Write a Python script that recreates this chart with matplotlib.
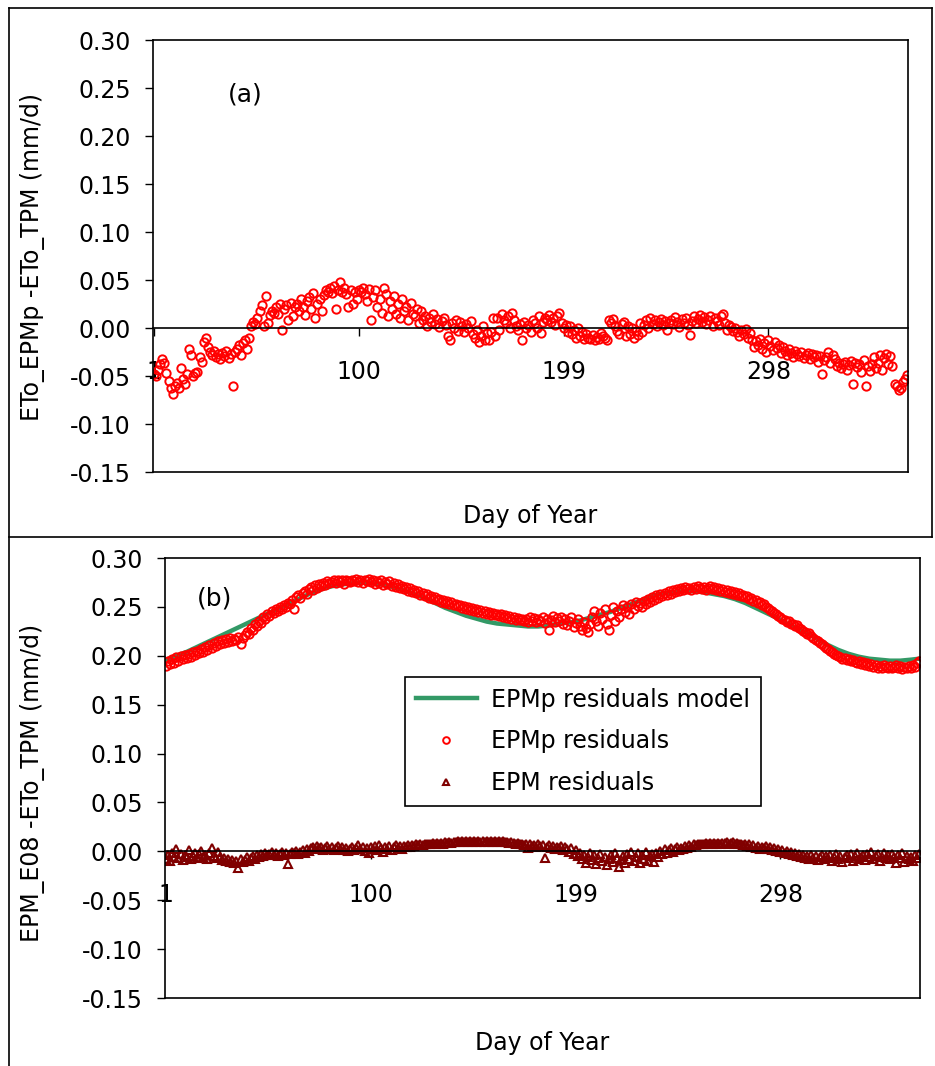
#!/usr/bin/env python
# -*- coding: utf-8 -*-

# %%

import matplotlib

matplotlib.use("Agg")
import matplotlib.pyplot as plt
from matplotlib.lines import Line2D
from matplotlib.ticker import FuncFormatter
import numpy as np

plt.rcParams["font.family"] = ["DejaVu Sans"]

# %%

# Panel (a): ETo_EPMp - ETo_TPM, one value per day of year
eto_epmp_a = [
    -0.048, -0.050, -0.044, -0.038, -0.032, -0.036, -0.047, -0.055, -0.062, -0.069,
    -0.060, -0.057, -0.063, -0.042, -0.053, -0.058, -0.048, -0.022, -0.028, -0.050,
    -0.047, -0.046, -0.030, -0.035, -0.015, -0.010, -0.020, -0.025, -0.028, -0.024,
    -0.030, -0.027, -0.032, -0.026, -0.029, -0.024, -0.031, -0.027, -0.060, -0.025,
    -0.022, -0.018, -0.028, -0.016, -0.012, -0.022, -0.010, 0.002, 0.006, 0.004,
    0.010, 0.018, 0.024, 0.002, 0.033, 0.005, 0.014, 0.018, 0.016, 0.022,
    0.015, 0.025, -0.002, 0.020, 0.024, 0.008, 0.026, 0.012, 0.022, 0.025,
    0.018, 0.030, 0.022, 0.014, 0.028, 0.032, 0.020, 0.036, 0.010, 0.025,
    0.030, 0.018, 0.034, 0.040, 0.038, 0.042, 0.036, 0.044, 0.020, 0.040,
    0.048, 0.038, 0.042, 0.035, 0.022, 0.040, 0.025, 0.038, 0.030, 0.040,
    0.037, 0.042, 0.035, 0.028, 0.041, 0.008, 0.032, 0.040, 0.022, 0.030,
    0.016, 0.042, 0.035, 0.012, 0.028, 0.020, 0.033, 0.015, 0.025, 0.010,
    0.030, 0.018, 0.022, 0.008, 0.026, 0.015, 0.012, 0.020, 0.005, 0.018,
    0.008, 0.012, 0.002, 0.010, 0.006, 0.015, 0.004, 0.009, 0.001, 0.007,
    0.010, 0.003, -0.008, -0.012, 0.005, 0.000, 0.008, -0.003, 0.006, 0.002,
    -0.004, 0.004, 0.000, 0.007, -0.006, -0.010, -0.002, -0.015, -0.008, 0.002,
    -0.012, -0.005, -0.013, -0.004, 0.010, -0.008, 0.010, -0.002, 0.015, 0.008,
    0.005, 0.012, 0.000, 0.016, 0.008, 0.002, -0.002, 0.004, -0.013, 0.006,
    0.000, 0.003, -0.004, 0.008, 0.005, 0.000, 0.012, -0.005, 0.006, 0.010,
    0.008, 0.014, 0.006, 0.010, 0.003, 0.012, 0.016, 0.005, 0.000, 0.003,
    -0.004, 0.002, -0.006, -0.002, -0.010, 0.000, -0.008, -0.004, -0.011, -0.006,
    -0.010, -0.011, -0.007, -0.012, -0.009, -0.011, -0.005, -0.008, -0.010, -0.012,
    0.008, 0.005, 0.009, 0.002, -0.003, -0.006, 0.004, 0.006, -0.008, 0.002,
    -0.006, 0.000, -0.010, -0.003, -0.007, 0.005, -0.004, 0.003, 0.008, 0.000,
    0.010, 0.004, 0.008, 0.002, 0.006, 0.009, 0.003, 0.007, -0.002, 0.005,
    0.008, 0.004, 0.011, 0.006, 0.001, 0.009, 0.005, 0.010, 0.003, -0.007,
    0.007, 0.012, 0.005, 0.009, 0.014, 0.006, 0.011, 0.004, 0.008, 0.013,
    0.002, 0.010, 0.007, 0.003, 0.012, 0.015, 0.005, -0.002, 0.003, 0.001,
    -0.003, 0.000, -0.004, -0.008, -0.002, -0.006, -0.001, -0.010, -0.005, -0.012,
    -0.020, -0.014, -0.018, -0.011, -0.022, -0.016, -0.025, -0.012, -0.019, -0.023,
    -0.015, -0.021, -0.018, -0.026, -0.020, -0.024, -0.028, -0.022, -0.026, -0.030,
    -0.024, -0.027, -0.029, -0.025, -0.031, -0.028, -0.026, -0.032, -0.027, -0.030,
    -0.028, -0.035, -0.029, -0.048, -0.033, -0.030, -0.025, -0.036, -0.028, -0.032,
    -0.040, -0.036, -0.042, -0.038, -0.035, -0.044, -0.039, -0.034, -0.058, -0.036,
    -0.041, -0.037, -0.046, -0.033, -0.060, -0.040, -0.045, -0.038, -0.030, -0.042,
    -0.036, -0.028, -0.044, -0.031, -0.027, -0.038, -0.029, -0.040, -0.058, -0.060,
    -0.065, -0.062, -0.056, -0.053, -0.049,
]

# Panel (b): EPMp residuals (circles)
epmp_residuals = [
    0.190, 0.195, 0.192, 0.197, 0.193, 0.199, 0.195, 0.200, 0.197, 0.201,
    0.198, 0.202, 0.199, 0.204, 0.201, 0.205, 0.203, 0.207, 0.204, 0.209,
    0.206, 0.211, 0.208, 0.213, 0.210, 0.215, 0.212, 0.216, 0.213, 0.217,
    0.214, 0.218, 0.215, 0.217, 0.216, 0.219, 0.212, 0.218, 0.221, 0.224,
    0.222, 0.228, 0.226, 0.232, 0.230, 0.236, 0.234, 0.240, 0.238, 0.243,
    0.241, 0.246, 0.244, 0.248, 0.246, 0.250, 0.248, 0.252, 0.250, 0.254,
    0.253, 0.257, 0.248, 0.260, 0.262, 0.259, 0.264, 0.266, 0.263, 0.268,
    0.270, 0.267, 0.272, 0.269, 0.273, 0.271, 0.274, 0.272, 0.276, 0.274,
    0.275, 0.277, 0.274, 0.278, 0.275, 0.277, 0.273, 0.278, 0.276, 0.275,
    0.278, 0.276, 0.279, 0.275, 0.277, 0.274, 0.278, 0.276, 0.279, 0.275,
    0.277, 0.273, 0.276, 0.274, 0.277, 0.272, 0.275, 0.273, 0.276, 0.271,
    0.274, 0.270, 0.273, 0.269, 0.271, 0.268, 0.270, 0.266, 0.269, 0.265,
    0.267, 0.264, 0.266, 0.262, 0.264, 0.261, 0.263, 0.259, 0.261, 0.258,
    0.260, 0.257, 0.258, 0.255, 0.257, 0.254, 0.256, 0.253, 0.255, 0.252,
    0.253, 0.251, 0.252, 0.249, 0.251, 0.248, 0.250, 0.247, 0.249, 0.246,
    0.248, 0.245, 0.247, 0.244, 0.246, 0.243, 0.245, 0.242, 0.244, 0.242,
    0.243, 0.241, 0.243, 0.240, 0.242, 0.239, 0.241, 0.238, 0.240, 0.237,
    0.239, 0.237, 0.238, 0.236, 0.238, 0.235, 0.240, 0.236, 0.239, 0.235,
    0.238, 0.236, 0.240, 0.234, 0.238, 0.226, 0.237, 0.241, 0.235, 0.239,
    0.236, 0.240, 0.233, 0.238, 0.231, 0.236, 0.240, 0.229, 0.234, 0.238,
    0.230, 0.226, 0.235, 0.228, 0.224, 0.232, 0.240, 0.246, 0.236, 0.230,
    0.244, 0.238, 0.248, 0.232, 0.226, 0.242, 0.250, 0.236, 0.246, 0.240,
    0.248, 0.252, 0.245, 0.250, 0.243, 0.253, 0.248, 0.255, 0.251, 0.254,
    0.250, 0.256, 0.253, 0.258, 0.255, 0.260, 0.257, 0.262, 0.259, 0.263,
    0.261, 0.264, 0.262, 0.266, 0.263, 0.267, 0.265, 0.268, 0.266, 0.269,
    0.267, 0.270, 0.268, 0.269, 0.267, 0.270, 0.268, 0.271, 0.269, 0.268,
    0.270, 0.267, 0.269, 0.271, 0.268, 0.270, 0.267, 0.269, 0.266, 0.268,
    0.265, 0.267, 0.264, 0.266, 0.263, 0.265, 0.262, 0.264, 0.261, 0.262,
    0.260, 0.261, 0.258, 0.259, 0.256, 0.257, 0.254, 0.255, 0.252, 0.253,
    0.250, 0.249, 0.247, 0.246, 0.244, 0.243, 0.241, 0.240, 0.238, 0.237,
    0.235, 0.236, 0.233, 0.232, 0.230, 0.231, 0.228, 0.227, 0.225, 0.224,
    0.222, 0.223, 0.220, 0.218, 0.216, 0.215, 0.213, 0.212, 0.210, 0.208,
    0.207, 0.205, 0.204, 0.202, 0.201, 0.200, 0.199, 0.197, 0.198, 0.196,
    0.197, 0.195, 0.196, 0.194, 0.193, 0.195, 0.192, 0.194, 0.191, 0.193,
    0.190, 0.192, 0.189, 0.191, 0.188, 0.190, 0.187, 0.191, 0.189, 0.188,
    0.190, 0.187, 0.189, 0.191, 0.188, 0.190, 0.186, 0.189, 0.187, 0.190,
    0.188, 0.191, 0.189, 0.193, 0.195,
]

# Panel (b): EPM residuals (triangles)
epm_residuals = [
    -0.008, -0.004, -0.010, -0.002, -0.006, 0.002, -0.007, -0.003, -0.009, -0.004,
    -0.006, 0.001, -0.008, -0.005, -0.002, -0.007, -0.003, 0.000, -0.006, -0.004,
    -0.008, -0.002, 0.003, -0.005, -0.007, -0.001, -0.006, -0.009, -0.007, -0.010,
    -0.008, -0.011, -0.009, -0.012, -0.010, -0.017, -0.008, -0.011, -0.009, -0.006,
    -0.010, -0.007, -0.005, -0.008, -0.004, -0.006, -0.003, -0.005, -0.002, -0.004,
    -0.003, -0.001, -0.004, -0.002, -0.005, -0.003, -0.001, -0.004, -0.002, -0.013,
    -0.003, -0.001, -0.002, 0.000, -0.003, -0.001, 0.001, -0.002, 0.002, 0.000,
    0.003, 0.004, 0.002, 0.005, 0.003, 0.004, 0.001, 0.003, 0.005, 0.002,
    0.004, 0.001, 0.003, 0.005, 0.002, 0.004, 0.001, 0.003, 0.000, 0.002,
    0.004, 0.001, 0.003, 0.006, 0.002, 0.004, 0.000, 0.003, -0.002, 0.004,
    0.002, 0.005, 0.001, 0.006, 0.003, -0.001, 0.004, 0.002, 0.005, 0.001,
    0.004, 0.006, 0.003, 0.005, 0.002, 0.005, 0.004, 0.006, 0.004, 0.006,
    0.005, 0.007, 0.006, 0.007, 0.006, 0.008, 0.007, 0.008, 0.007, 0.009,
    0.008, 0.009, 0.008, 0.009, 0.008, 0.010, 0.009, 0.010, 0.009, 0.010,
    0.010, 0.011, 0.010, 0.011, 0.010, 0.011, 0.010, 0.011, 0.010, 0.011,
    0.010, 0.011, 0.010, 0.011, 0.010, 0.011, 0.010, 0.011, 0.010, 0.011,
    0.010, 0.011, 0.010, 0.011, 0.010, 0.010, 0.009, 0.010, 0.009, 0.008,
    0.009, 0.007, 0.008, 0.006, 0.008, 0.003, 0.007, 0.005, 0.006, 0.004,
    0.007, 0.005, 0.006, -0.007, 0.004, 0.006, 0.003, 0.005, 0.002, 0.004,
    0.003, 0.005, 0.001, 0.004, 0.002, -0.001, 0.003, -0.003, 0.001, -0.005,
    -0.002, -0.008, -0.004, -0.012, -0.006, -0.002, -0.009, -0.004, -0.013, -0.007,
    -0.003, -0.010, -0.006, -0.014, -0.008, -0.004, -0.011, -0.002, -0.007, -0.016,
    -0.009, -0.005, -0.012, -0.003, -0.008, -0.001, -0.010, -0.006, -0.002, -0.012,
    -0.004, -0.008, -0.001, -0.010, -0.005, -0.003, -0.011, -0.002, -0.006, 0.000,
    -0.003, 0.002, -0.002, 0.001, 0.003, -0.001, 0.002, 0.004, 0.001, 0.003,
    0.002, 0.005, 0.003, 0.006, 0.004, 0.007, 0.006, 0.008, 0.007, 0.008,
    0.008, 0.009, 0.008, 0.009, 0.008, 0.009, 0.008, 0.009, 0.008, 0.009,
    0.009, 0.010, 0.008, 0.009, 0.010, 0.008, 0.009, 0.007, 0.008, 0.006,
    0.008, 0.005, 0.007, 0.004, 0.006, 0.003, 0.005, 0.002, 0.004, 0.003,
    0.005, 0.002, 0.004, 0.001, 0.003, 0.000, 0.002, -0.001, 0.001, -0.002,
    0.000, -0.003, -0.001, -0.004, -0.002, -0.005, -0.003, -0.006, -0.004, -0.007,
    -0.005, -0.008, -0.004, -0.007, -0.005, -0.009, -0.006, -0.004, -0.008, -0.005,
    -0.007, -0.004, -0.010, -0.006, -0.003, -0.008, -0.005, -0.011, -0.006, -0.004,
    -0.007, -0.003, -0.010, -0.005, -0.002, -0.008, -0.006, -0.004, -0.009, -0.003,
    -0.006, -0.001, -0.008, -0.005, -0.003, -0.010, -0.006, -0.002, -0.007, -0.004,
    -0.008, -0.003, -0.006, -0.012, -0.004, -0.007, -0.002, -0.011, -0.005, -0.008,
    -0.006, -0.010, -0.004, -0.007, -0.003,
]

# Panel (b): EPMp residuals model (green line), every 5 days
model_days = list(range(1, 362, 5)) + [365]
model_values = [
    0.196, 0.200, 0.204, 0.209, 0.214, 0.219, 0.224, 0.229, 0.234, 0.239,
    0.244, 0.249, 0.254, 0.259, 0.264, 0.268, 0.271, 0.273, 0.274, 0.275,
    0.274, 0.273, 0.270, 0.267, 0.263, 0.259, 0.254, 0.249, 0.245, 0.241,
    0.238, 0.235, 0.233, 0.232, 0.231, 0.230, 0.230, 0.231, 0.233, 0.234,
    0.236, 0.239, 0.242, 0.245, 0.249, 0.253, 0.257, 0.261, 0.264, 0.265,
    0.266, 0.266, 0.265, 0.263, 0.261, 0.258, 0.254, 0.249, 0.244, 0.239,
    0.233, 0.228, 0.223, 0.217, 0.211, 0.206, 0.202, 0.199, 0.197, 0.196,
    0.195, 0.195, 0.196, 0.197,
]

x_ticks = [1, 100, 199, 298]
y_ticks = [-0.15, -0.10, -0.05, 0.00, 0.05, 0.10, 0.15, 0.20, 0.25, 0.30]

FS = 17  # text size used all over the chart

# %%

W, H = 935, 1066
fig = plt.figure(figsize=(W / 100, H / 100), dpi=100)


def px_axes(left, top, right, bottom):
    # axes from pixel box of the reference picture
    return fig.add_axes(
        [left / W, 1 - bottom / H, (right - left) / W, (bottom - top) / H]
    )


def style_axes(ax):
    ax.set_xlim(0.5, 365.5)
    ax.set_ylim(-0.15, 0.30)
    ax.set_yticks(y_ticks)
    ax.yaxis.set_major_formatter(FuncFormatter(lambda v, p: f"{v:.2f}"))
    ax.set_xticks(x_ticks)
    ax.set_xticklabels([str(t) for t in x_ticks])
    # category axis crosses at zero, like the spreadsheet chart
    ax.spines["bottom"].set_position(("data", 0))
    ax.axhline(-0.15, color="black", lw=1.2, clip_on=False, zorder=5)
    for s in ["left", "right", "top", "bottom"]:
        ax.spines[s].set_linewidth(1.2)
        ax.spines[s].set_zorder(4)
    ax.tick_params(axis="y", direction="out", length=6, width=1, pad=10,
                   labelsize=FS)
    ax.tick_params(axis="x", direction="out", length=6, width=1, pad=17,
                   labelsize=FS)


# %%

# Panel (a)
ax_a = px_axes(153, 40, 908, 472)
style_axes(ax_a)
days_a = np.arange(1, len(eto_epmp_a) + 1)
ax_a.plot(days_a, eto_epmp_a, ls="none", marker="o", ms=6, mfc="none",
          mec="#ff0000", mew=1.4, zorder=3)
ax_a.text(0.122, 0.873, "(a)", transform=ax_a.transAxes, fontsize=18,
          ha="center", va="center")
ax_a.text(0.5, -0.102, "Day of Year", transform=ax_a.transAxes, fontsize=FS,
          ha="center", va="center")
fig.text(33 / W, 1 - 257 / H, "ETo_EPMp -ETo_TPM (mm/d)", rotation=90,
         fontsize=FS, ha="center", va="center")

# Panel (b)
ax_b = px_axes(165, 558, 920, 998)
style_axes(ax_b)
days_b = np.arange(1, len(epmp_residuals) + 1)
days_t = np.arange(1, len(epm_residuals) + 1)
ax_b.plot(model_days, model_values, color="#339966", lw=3.2, zorder=2,
          label="EPMp residuals model")
ax_b.plot(days_b, epmp_residuals, ls="none", marker="o", ms=6, mfc="none",
          mec="#ff0000", mew=1.4, zorder=3, label="EPMp residuals")
ax_b.plot(days_t, epm_residuals, ls="none", marker="^", ms=6, mfc="none",
          mec="#800000", mew=1.5, zorder=3, label="EPM residuals")
ax_b.text(0.066, 0.909, "(b)", transform=ax_b.transAxes, fontsize=18,
          ha="center", va="center")
ax_b.text(0.5, -0.102, "Day of Year", transform=ax_b.transAxes, fontsize=FS,
          ha="center", va="center")
fig.text(33 / W, 1 - 783 / H, "EPM_E08 -ETo_TPM (mm/d)", rotation=90,
         fontsize=FS, ha="center", va="center")

leg = ax_b.legend(loc="upper left", bbox_to_anchor=(0.318, 0.7295),
                  borderaxespad=0, fontsize=FS, frameon=True, fancybox=False,
                  framealpha=1, edgecolor="black", handlelength=2.6,
                  labelspacing=0.75, borderpad=0.45, markerscale=0.8,
                  handletextpad=0.6)
leg.get_frame().set_linewidth(1.2)
leg.set_zorder(6)

# Outer chart frames
frame = dict(color="black", lw=1.2, transform=fig.transFigure)
fig.add_artist(Line2D([9 / W, 9 / W], [0, 1 - 8 / H], **frame))
fig.add_artist(Line2D([9 / W, 932 / W], [1 - 8 / H, 1 - 8 / H], **frame))
fig.add_artist(Line2D([932 / W, 932 / W], [1 - 8 / H, 1 - 537 / H], **frame))
fig.add_artist(Line2D([9 / W, 932 / W], [1 - 537 / H, 1 - 537 / H], **frame))

fig.savefig("out.png", dpi=100)
